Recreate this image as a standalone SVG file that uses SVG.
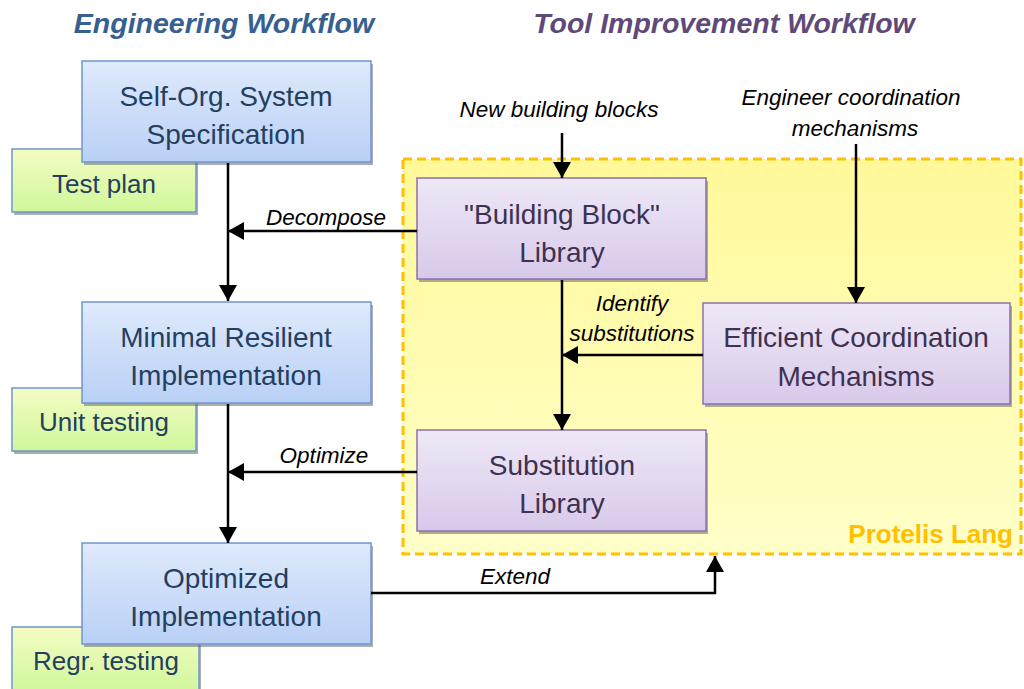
<svg xmlns="http://www.w3.org/2000/svg" width="1024" height="689" viewBox="0 0 1024 689">
<defs>
<linearGradient id="gBlue" x1="0" y1="0" x2="0" y2="1"><stop offset="0" stop-color="#dfeafc"/><stop offset="1" stop-color="#b9d0f6"/></linearGradient>
<linearGradient id="gGreen" x1="0" y1="0" x2="0" y2="1"><stop offset="0" stop-color="#f5fcc4"/><stop offset="1" stop-color="#cff79a"/></linearGradient>
<linearGradient id="gPurple" x1="0" y1="0" x2="0" y2="1"><stop offset="0" stop-color="#eee8f6"/><stop offset="1" stop-color="#d8c9ea"/></linearGradient>
<linearGradient id="gYellow" x1="0" y1="0" x2="0" y2="1"><stop offset="0" stop-color="#fff99a"/><stop offset="1" stop-color="#ffffc8"/></linearGradient>
<marker id="ah" viewBox="0 0 16 18" refX="16" refY="9" markerWidth="16" markerHeight="18" markerUnits="userSpaceOnUse" orient="auto"><path d="M0,0 L16,9 L0,18 Z" fill="#000"/></marker>
<style>
.sh{fill:#6b6b6b;opacity:0.55}
.blue{fill:url(#gBlue);stroke:#6e97cf;stroke-width:1.5}
.green{fill:url(#gGreen);stroke:#6e97cf;stroke-width:1.5}
.purple{fill:url(#gPurple);stroke:#8a72ad;stroke-width:1.5}
.tb{font-family:"Liberation Sans",Arial,sans-serif;font-size:28px;fill:#243f60;text-anchor:middle}
.tg{font-family:"Liberation Sans",Arial,sans-serif;font-size:26px;fill:#243f60;text-anchor:middle}
.tp{font-family:"Liberation Sans",Arial,sans-serif;font-size:28px;fill:#3f3151;text-anchor:middle}
.lab{font-family:"Liberation Sans",Arial,sans-serif;font-size:22.5px;font-style:italic;fill:#000;text-anchor:middle}
.title{font-family:"Liberation Sans",Arial,sans-serif;font-size:28.5px;font-weight:bold;font-style:italic;text-anchor:middle}
.con{fill:none;stroke:#000;stroke-width:2.5}
</style>
</defs>
<rect width="1024" height="689" fill="#fff"/>
<text class="title" x="224" y="33" fill="#366092">Engineering Workflow</text>
<text class="title" x="724" y="33" fill="#5f497a">Tool Improvement Workflow</text>

<g id="protelis">
<rect x="403" y="159" width="618" height="395" fill="url(#gYellow)" stroke="#ffc000" stroke-width="3" stroke-dasharray="9,5"/>
<text x="1013" y="543" font-family="'Liberation Sans',Arial,sans-serif" font-size="26" font-weight="bold" fill="#ffc000" text-anchor="end">Protelis Lang</text>
</g>

<g id="testplan">
<rect class="sh" x="14" y="152" width="184" height="63"/>
<rect class="green" x="12" y="149" width="184" height="63"/>
<text class="tg" x="104" y="193">Test plan</text>
</g>
<g id="spec">
<rect class="sh" x="84" y="64" width="289" height="101"/>
<rect class="blue" x="82" y="61" width="289" height="101"/>
<text class="tb" x="226" y="106">Self-Org. System</text>
<text class="tb" x="226" y="144">Specification</text>
</g>

<g id="unittesting">
<rect class="sh" x="14" y="391" width="184" height="63"/>
<rect class="green" x="12" y="388" width="184" height="63"/>
<text class="tg" x="104" y="431">Unit testing</text>
</g>
<g id="minimal">
<rect class="sh" x="84" y="305" width="289" height="101"/>
<rect class="blue" x="82" y="302" width="289" height="101"/>
<text class="tb" x="226" y="347">Minimal Resilient</text>
<text class="tb" x="226" y="385">Implementation</text>
</g>

<g id="regr">
<rect class="sh" x="14" y="630" width="187" height="63"/>
<rect class="green" x="12" y="627" width="187" height="66"/>
<text class="tg" x="106" y="670">Regr. testing</text>
</g>
<g id="optimized">
<rect class="sh" x="84" y="546" width="289" height="101"/>
<rect class="blue" x="82" y="543" width="289" height="101"/>
<text class="tb" x="226" y="588">Optimized</text>
<text class="tb" x="226" y="626">Implementation</text>
</g>

<g id="bblib">
<rect class="sh" x="419" y="181" width="289" height="101"/>
<rect class="purple" x="417" y="178" width="289" height="101"/>
<text class="tp" x="562" y="224">"Building Block"</text>
<text class="tp" x="562" y="262">Library</text>
</g>
<g id="efficient">
<rect class="sh" x="705" y="306" width="307" height="101"/>
<rect class="purple" x="703" y="303" width="307" height="101"/>
<text class="tp" x="856" y="347">Efficient Coordination</text>
<text class="tp" x="856" y="386">Mechanisms</text>
</g>
<g id="sublib">
<rect class="sh" x="419" y="433" width="289" height="101"/>
<rect class="purple" x="417" y="430" width="289" height="101"/>
<text class="tp" x="562" y="475">Substitution</text>
<text class="tp" x="562" y="513">Library</text>
</g>

<g id="connectors">
<line class="con" x1="228" y1="163" x2="228" y2="301" marker-end="url(#ah)"/>
<line class="con" x1="417" y1="231" x2="228" y2="231" marker-end="url(#ah)"/>
<line class="con" x1="228" y1="404" x2="228" y2="543" marker-end="url(#ah)"/>
<line class="con" x1="417" y1="472" x2="228" y2="472" marker-end="url(#ah)"/>
<line class="con" x1="562" y1="133" x2="562" y2="178" marker-end="url(#ah)"/>
<line class="con" x1="856" y1="144" x2="856" y2="303" marker-end="url(#ah)"/>
<line class="con" x1="562" y1="280" x2="562" y2="430" marker-end="url(#ah)"/>
<line class="con" x1="703" y1="355" x2="562" y2="355" marker-end="url(#ah)"/>
<polyline class="con" points="371,593 715,593 715,556" marker-end="url(#ah)"/>
<text class="lab" x="326" y="225">Decompose</text>
<text class="lab" x="324" y="463">Optimize</text>
<text class="lab" x="515" y="584">Extend</text>
<text class="lab" x="559" y="117">New building blocks</text>
<text class="lab" x="851" y="105">Engineer coordination</text>
<text class="lab" x="855" y="136">mechanisms</text>
<text class="lab" x="632" y="311">Identify</text>
<text class="lab" x="632" y="341">substitutions</text>
</g>
</svg>
